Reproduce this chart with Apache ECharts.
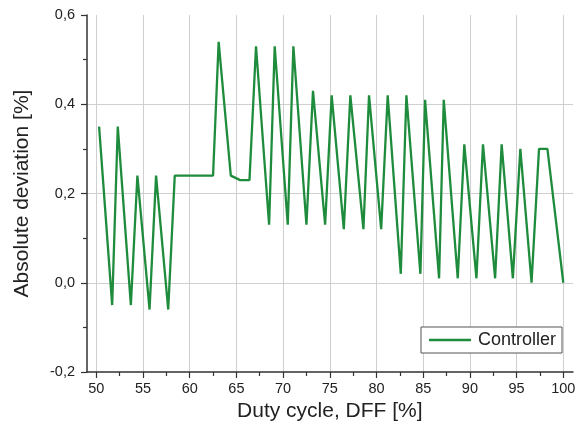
<!DOCTYPE html>
<html>
<head>
<meta charset="utf-8">
<script src="https://cdn.jsdelivr.net/npm/echarts@6/dist/echarts.min.js"></script>
<style>html,body{margin:0;padding:0;background:#fff}#c{width:577px;height:435px}</style>
</head>
<body>
<div id="c"></div>
<script>
// Data
const dutyCycle = [50.3, 51.7, 52.3, 53.7, 54.4, 55.7, 56.4, 57.7, 58.4, 62.5, 63.1, 64.4, 65.4, 66.4, 67.1, 68.5, 69.1, 70.5, 71.1, 72.5, 73.2, 74.5, 75.2, 76.5, 77.2, 78.6, 79.2, 80.5, 81.2, 82.6, 83.2, 84.7, 85.2, 86.7, 87.2, 88.7, 89.4, 90.7, 91.4, 92.7, 93.4, 94.6, 95.4, 96.6, 97.4, 98.3, 100.0];
const controller = [0.35, -0.05, 0.35, -0.05, 0.24, -0.06, 0.24, -0.06, 0.24, 0.24, 0.54, 0.24, 0.23, 0.23, 0.53, 0.13, 0.53, 0.13, 0.53, 0.13, 0.43, 0.13, 0.42, 0.12, 0.42, 0.12, 0.42, 0.12, 0.42, 0.02, 0.42, 0.02, 0.41, 0.01, 0.41, 0.01, 0.31, 0.01, 0.31, 0.01, 0.31, 0.01, 0.30, 0.0, 0.30, 0.30, 0.0];
const xMin = 50, xMax = 100, xStep = 5;
const yMin = -0.2, yMax = 0.6, yStep = 0.2;
const seriesName = 'Controller';
const xTitle = 'Duty cycle, DFF [%]';
const yTitle = 'Absolute deviation [%]';

const font = 'Liberation Sans, Arial, sans-serif';
const axisColor = '#333';
const gridColor = '#cfcfcf';
const chart = echarts.init(document.getElementById('c'), null, {renderer: 'canvas'});
chart.setOption({
  animation: false,
  backgroundColor: '#fff',
  textStyle: {fontFamily: font},
  grid: [
    {left: 96.3, right: 13.7, top: 15, bottom: 63, containLabel: false, outerBoundsMode: 'none'},
    {left: 87, right: 4, top: 15, bottom: 63, containLabel: false, outerBoundsMode: 'none'}
  ],
  legend: {
    show: true,
    data: [{name: seriesName, icon: 'rect'}],
    left: 421, top: 327,
    padding: [4, 6, 4, 8],
    backgroundColor: '#fff',
    borderColor: '#555',
    borderWidth: 1,
    borderRadius: 0,
    itemWidth: 42, itemHeight: 2.5, itemGap: 4,
    textStyle: {fontFamily: font, fontSize: 18, color: '#222', padding: [0, 0, 0, 2]}
  },
  xAxis: [{
    gridIndex: 0, type: 'value', min: xMin, max: xMax, interval: xStep, position: 'bottom',
    name: xTitle, nameLocation: 'middle', nameGap: 27,
    nameTextStyle: {fontFamily: font, fontSize: 21, color: '#222'},
    axisLine: {show: true, onZero: false, lineStyle: {color: 'rgba(0,0,0,0)', width: 0}},
    axisTick: {show: true, inside: false, length: 6, lineStyle: {color: axisColor, width: 1.2}},
    minorTick: {show: true, splitNumber: 2, length: 4, lineStyle: {color: axisColor, width: 1.2}},
    axisLabel: {show: true, margin: 9, fontSize: 14.5, color: '#222', fontFamily: font},
    splitLine: {show: true, lineStyle: {color: gridColor, width: 1}}
  }, {
    gridIndex: 1, type: 'value', min: 0, max: 1,
    axisLine: {show: true, onZero: false, lineStyle: {color: axisColor, width: 1.5}},
    axisTick: {show: false}, axisLabel: {show: false}, splitLine: {show: false}
  }],
  yAxis: [{
    gridIndex: 0, type: 'value', min: yMin, max: yMax, interval: yStep,
    axisLine: {show: false}, axisTick: {show: false}, axisLabel: {show: false}, splitLine: {show: false}
  }, {
    gridIndex: 1, type: 'value', min: yMin, max: yMax, interval: yStep,
    name: yTitle, nameLocation: 'middle', nameGap: 54, nameRotate: 90,
    nameTextStyle: {fontFamily: font, fontSize: 21, color: '#222'},
    axisLine: {show: true, onZero: false, lineStyle: {color: axisColor, width: 1.5}},
    axisTick: {show: true, length: 6, lineStyle: {color: axisColor, width: 1.2}},
    minorTick: {show: true, splitNumber: 2, length: 4, lineStyle: {color: axisColor, width: 1.2}},
    axisLabel: {margin: 12, fontSize: 14.5, color: '#222', fontFamily: font,
      formatter: v => v.toFixed(1).replace('.', ',')},
    splitLine: {show: true, showMinLine: false, showMaxLine: false, lineStyle: {color: gridColor, width: 1}}
  }],
  series: [{
    name: seriesName, type: 'line', xAxisIndex: 0, yAxisIndex: 0,
    data: dutyCycle.map((x, i) => [x, controller[i]]),
    symbol: 'none', showSymbol: false,
    lineStyle: {color: '#1e8c3c', width: 2.3},
    itemStyle: {color: '#1e8c3c'}
  }]
});
</script>
</body>
</html>
